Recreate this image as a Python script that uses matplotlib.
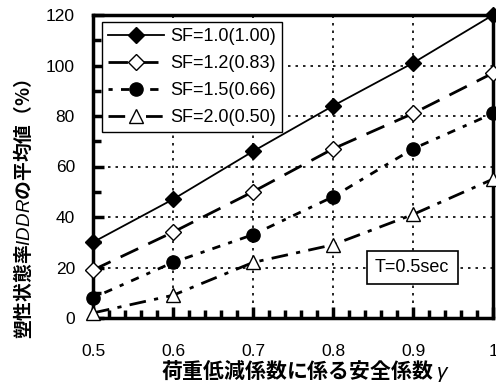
import matplotlib
matplotlib.use("Agg")
import matplotlib.pyplot as plt
from matplotlib.ticker import MultipleLocator

plt.rcParams['font.family'] = ['Liberation Sans', 'Noto Sans CJK JP', 'DejaVu Sans']
plt.rcParams['mathtext.fontset'] = 'custom'
plt.rcParams['mathtext.it'] = 'Liberation Sans:italic'
plt.rcParams['mathtext.rm'] = 'Liberation Sans'

# data
gamma = [0.5, 0.6, 0.7, 0.8, 0.9, 1.0]
sf10 = [30, 47, 66, 84, 101, 120]
sf12 = [19, 34, 50, 67, 81, 97]
sf15 = [8, 22, 33, 48, 67, 81]
sf20 = [2, 9, 22, 29, 41, 55]
labels = ["SF=1.0(1.00)", "SF=1.2(0.83)", "SF=1.5(0.66)", "SF=2.0(0.50)"]

fig = plt.figure(figsize=(4.96, 3.84), dpi=100)
ax = fig.add_axes([93 / 496, 1 - 318 / 384, 400 / 496, 303 / 384])

ax.plot(gamma, sf10, color="black", lw=1.3, marker="D", ms=8,
        mfc="black", mec="black", label=labels[0], clip_on=False, zorder=5)
ax.plot(gamma, sf12, color="black", lw=2, dashes=(7, 4), marker="D", ms=8,
        mfc="white", mec="black", label=labels[1], clip_on=False, zorder=5)
ax.plot(gamma, sf15, color="black", lw=2, dashes=(1.5, 3, 3, 3), marker="o", ms=9.5,
        mfc="black", mec="black", label=labels[2], clip_on=False, zorder=5)
ax.plot(gamma, sf20, color="black", lw=2, dashes=(6, 3, 1.5, 3), marker="^", ms=9.5,
        mfc="white", mec="black", label=labels[3], clip_on=False, zorder=5)

ax.set_xlim(0.5, 1.0)
ax.set_ylim(0, 120)
ax.xaxis.set_minor_locator(MultipleLocator(0.02))
ax.yaxis.set_major_locator(MultipleLocator(20))
ax.yaxis.set_minor_locator(MultipleLocator(10))
ax.set_xticks(gamma)
ax.set_xticklabels(["0.5", "0.6", "0.7", "0.8", "0.9", "1"])
ax.tick_params(which="both", direction="in", width=2.5, labelsize=12.5)
ax.tick_params(which="major", length=8)
ax.tick_params(which="minor", length=6)
ax.tick_params(axis="x", which="major", pad=19)
ax.tick_params(axis="y", which="major", pad=13)
for s in ax.spines.values():
    s.set_linewidth(2.5)

ax.grid(True, which="major", color="black", lw=1.2, linestyle=(0, (1.5, 3)))

jp = "Noto Sans CJK JP"
ax.set_xlabel("荷重低減係数に係る安全係数 $\\gamma$", fontsize=15,
              family=jp, fontweight="bold", va="center")
ax.xaxis.set_label_coords(0.53, -0.174)
ax.set_ylabel("塑性状態率$\\mathit{IDDR}$の平均値（%）", fontsize=13.5,
              family=jp, fontweight="bold", va="center")
ax.yaxis.set_label_coords(-0.175, 0.36)

leg = ax.legend(loc="upper left", bbox_to_anchor=(0.0225, 0.977), fontsize=13,
                handlelength=3.1, handletextpad=0.3, labelspacing=0.55,
                borderpad=0.35, borderaxespad=0, fancybox=False,
                edgecolor="black", framealpha=1)
leg.get_frame().set_linewidth(1.0)

ax.text(0.899, 20, "T=0.5sec", fontsize=13, ha="center", va="center",
        bbox=dict(boxstyle="square,pad=0.45", fc="white", ec="black", lw=1.2),
        zorder=6)

fig.savefig("out.png", dpi=100)
